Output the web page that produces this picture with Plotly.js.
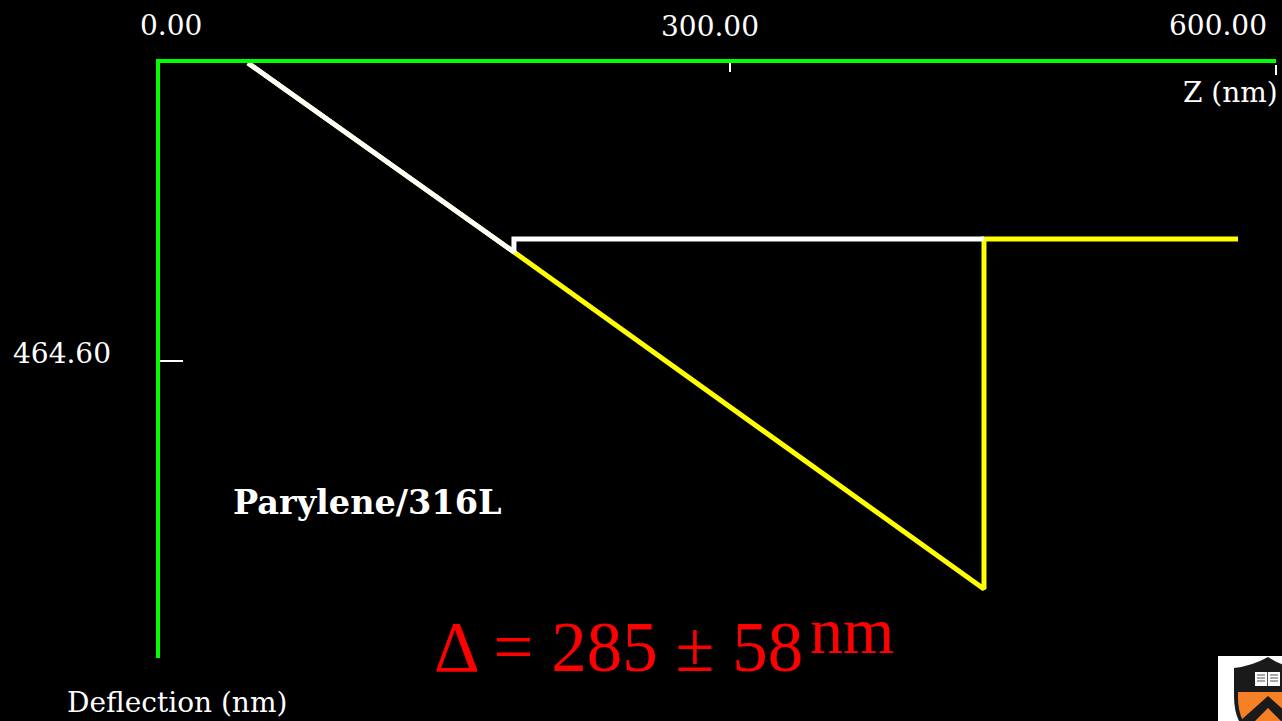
<!DOCTYPE html>
<html>
<head>
<meta charset="utf-8">
<script src="https://cdn.plot.ly/plotly-3.0.1.min.js"></script>
<style>
  html, body { margin: 0; padding: 0; background: #000; }
  #chart { width: 1282px; height: 721px; }
</style>
</head>
<body>
<div id="chart"></div>
<script>
// Force–distance curve: approach (white) and retract (yellow), Z vs cantilever deflection
const zApproach = [46.3, 186.3, 186.3, 433.7];
const deflApproach = [0, 294.7, 274.4, 274.4];

const zRetract = [46.3, 186.3, 433.7, 433.7, 567.4];
const deflRetract = [0, 294.7, 820.1, 274.4, 274.4];

const xTickVals = [0, 300, 600];
const xTickText = ['0.00', '300.00', '600.00'];
const yTickVals = [464.6];
const yTickText = ['464.60'];

const xRange = [0, 587.4];
const yRange = [927.6, 0];

// plot area in page pixels
const L = 160, T = 63, W = 1116, H = 595;
const fx = p => (p - L) / W;
const fy = p => (T + H - p) / H;

const serif = 'DejaVu Serif';
const times = 'Liberation Serif';

const traces = [
  { x: zRetract, y: deflRetract, mode: 'lines', line: { color: '#ffff00', width: 5 }, hoverinfo: 'skip' },
  { x: zApproach, y: deflApproach, mode: 'lines', line: { color: '#ffffff', width: 5 }, hoverinfo: 'skip' }
];

const labelFont = { family: serif, size: 28, color: '#ffffff' };
const annotations = [
  { text: xTickText[0], x: fx(171), y: fy(25) },
  { text: xTickText[1], x: fx(710), y: fy(27) },
  { text: xTickText[2], x: fx(1218), y: fy(25) },
  { text: 'Z (nm)', x: fx(1230), y: fy(92) },
  { text: yTickText[0], x: fx(62), y: fy(353) },
  { text: 'Deflection (nm)', x: fx(177), y: fy(702) },
  { text: '<b>Parylene/316L</b>', x: fx(367), y: fy(502), font: { family: serif, size: 33.5, color: '#ffffff' } },
  { text: 'Δ = 285 ± 58', x: fx(618), y: fy(647), font: { family: times, size: 71, color: '#ff0000' } },
  { text: 'nm', x: fx(852), y: fy(630), font: { family: times, size: 66, color: '#ff0000' } }
].map(a => Object.assign({
  xref: 'paper', yref: 'paper', xanchor: 'center', yanchor: 'middle',
  showarrow: false, font: labelFont
}, a));

// university crest in the lower-right corner
const crest = `<svg xmlns="http://www.w3.org/2000/svg" width="64" height="65" viewBox="0 0 64 65">
<rect width="64" height="65" fill="#ffffff"/>
<path d="M16,12 Q34,10 50,1 Q60,8 70,10 L70,65 L21,65 Q16,55 16,40 Z" fill="#1a1a1a"/>
<path d="M20,36 L70,36 L70,65 L25,65 Q20,55 20,42 Z" fill="#f58025"/>
<path d="M22,65 L50,40 L70,58 L70,65 L63,65 L50,52 L37,65 Z" fill="#1a1a1a"/>
<rect x="37" y="16" width="25" height="14" fill="#ffffff"/>
<path d="M49.5,16 V30 M39,19 H47 M39,22 H47 M39,25 H47 M52,19 H60 M52,22 H60 M52,25 H60" stroke="#555" stroke-width="1"/>
</svg>`;

const layout = {
  width: 1282, height: 721,
  paper_bgcolor: '#000000', plot_bgcolor: '#000000',
  margin: { l: L, r: 1282 - L - W, t: T, b: 721 - T - H, pad: 0 },
  showlegend: false,
  xaxis: {
    side: 'top', range: xRange, showgrid: false, zeroline: false,
    showline: true, linecolor: '#00ff00', linewidth: 4,
    ticks: 'inside', tickvals: [xTickVals[1]], ticklen: 9, tickwidth: 2, tickcolor: '#ffffff',
    showticklabels: false, fixedrange: true
  },
  yaxis: {
    range: yRange, showgrid: false, zeroline: false,
    showline: true, linecolor: '#00ff00', linewidth: 4,
    ticks: 'inside', tickvals: yTickVals, ticklen: 23, tickwidth: 2, tickcolor: '#ffffff',
    showticklabels: false, fixedrange: true
  },
  shapes: [
    // end-of-axis tick at the 600 mark
    { type: 'line', xref: 'paper', yref: 'paper', x0: fx(1276), x1: fx(1276), y0: fy(65), y1: fy(75),
      line: { color: '#ffffff', width: 2 } }
  ],
  images: [
    { source: 'data:image/svg+xml;charset=utf-8,' + encodeURIComponent(crest),
      xref: 'paper', yref: 'paper', x: fx(1218), y: fy(656), sizex: 64 / W, sizey: 65 / H,
      xanchor: 'left', yanchor: 'top', sizing: 'stretch', layer: 'above' }
  ],
  annotations: annotations
};

Plotly.newPlot('chart', traces, layout, { staticPlot: true, displayModeBar: false });
</script>
</body>
</html>
